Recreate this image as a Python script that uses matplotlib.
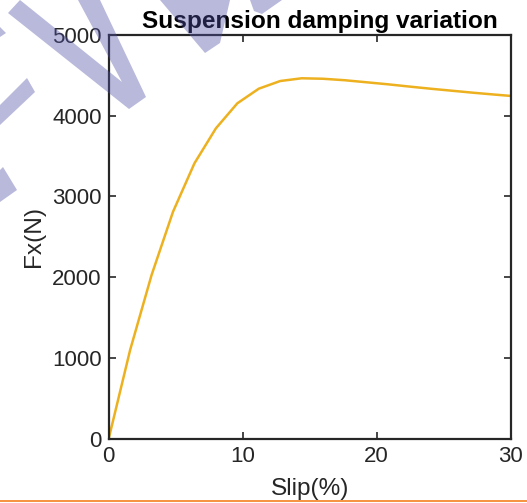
import numpy as np
import matplotlib
matplotlib.use("Agg")
import matplotlib.pyplot as plt
from matplotlib.patches import Polygon

plt.rcParams['font.family'] = ['Liberation Sans', 'DejaVu Sans']

# longitudinal force vs. slip ratio
slip = [0, 1.6, 3.2, 4.8, 6.4, 8.0, 9.6, 11.2, 12.8, 14.4, 16.0, 17.6,
        19.2, 20.8, 22.4, 24.0, 25.6, 27.2, 28.8, 30.4]
fx = [0, 1099, 2027, 2811, 3411, 3844, 4154, 4335, 4430, 4464, 4458, 4440,
      4415, 4390, 4362, 4335, 4310, 4285, 4262, 4240]

title = "Suspension damping variation"
xticks = [0, 10, 20, 30]
yticks = [0, 1000, 2000, 3000, 4000, 5000]

W, H = 527, 503
fig = plt.figure(figsize=(W / 100, H / 100), dpi=100)
ax = fig.add_axes([108.7 / W, 1 - 438.7 / H, 402 / W, 403.7 / H])

ax.plot(slip, fx, color='#EDB120', lw=1.8, clip_on=True)
ax.set_xlim(0, 30)
ax.set_ylim(0, 5000)
ax.set_xticks(xticks)
ax.set_yticks(yticks)

dark = '#262626'
for s in ax.spines.values():
    s.set_color(dark)
    s.set_linewidth(1.6)
ax.tick_params(direction='in', length=5, width=1.2, colors=dark,
               labelsize=16, top=True, right=True, pad=5)
ax.set_xlabel("Slip(%)", fontsize=17.6, color=dark, labelpad=8)
ax.set_ylabel("Fx(N)", fontsize=17.6, color=dark, labelpad=5)
ax.set_title(title, fontsize=17.6, fontweight='bold', pad=5, x=0.525)

# translucent strokes across the upper-left corner
wm = (80 / 255, 80 / 255, 168 / 255, 0.4)
strokes = [
    [(8, 13), (20, 0), (122, 82), (78, 0), (100, 0), (146, 97), (129, 109)],
    [(160, 0), (230, 0), (220, 43), (205, 53)],
    [(250, 0), (282, 0), (262, 14), (254, 11)],
    [(0, 27), (6, 33), (0, 37)],
    [(0, 105), (27, 78), (35, 92), (0, 125)],
    [(0, 170), (3, 167), (17, 190), (0, 202)],
]
for pts in strokes:
    poly = [(x / W, 1 - y / H) for x, y in pts]
    fig.add_artist(Polygon(poly, closed=True, transform=fig.transFigure,
                           facecolor=wm, edgecolor='none', zorder=10))

# orange rule along the bottom
fig.add_artist(plt.Line2D([0, 1], [1 - 501.2 / H] * 2, color='#f5821f',
                          lw=1.2, transform=fig.transFigure))

fig.savefig("out.png", dpi=100)
